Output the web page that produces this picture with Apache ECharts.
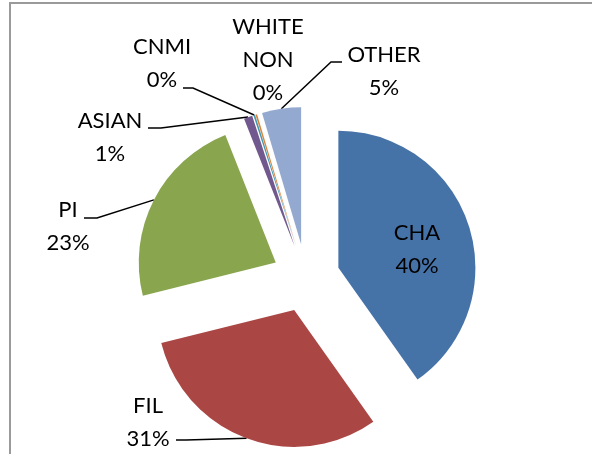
<!DOCTYPE html>
<html>
<head>
<meta charset="utf-8">
<script src="https://cdn.jsdelivr.net/npm/echarts@6/dist/echarts.min.js"></script>
<style>
html,body{margin:0;padding:0;background:#fff;}
#chart{width:592px;height:454px;}
</style>
</head>
<body>
<div id="chart"></div>
<script>
// slices, clockwise from 12 o'clock
var names = ['CHA', 'FIL', 'PI', 'ASIAN', 'CNMI', 'WHITE NON', 'OTHER'];
var shares = [40.2, 30.9, 22.9, 1.0, 0.2, 0.2, 4.6];
var colors = ['#4572A7', '#AA4643', '#89A54E', '#71588F', '#4198AF', '#DB843D', '#93A9CF'];

// label centre + leader line (elbow, end) for each slice
var labelAt = [
	{x: 417, y: 249, line: null},
	{x: 148, y: 422, line: [[186, 440], [176, 440]]},
	{x: 68, y: 226, line: [[97, 218], [84, 218]]},
	{x: 110, y: 137, line: [[161, 128], [148, 128]]},
	{x: 162, y: 63, line: [[193, 88], [183, 88]]},
	{x: 268, y: 60, line: null},
	{x: 384, y: 71, line: [[331, 62], [342, 62]]}
];

var CX = 306, CY = 278, R = 137, EXPLODE = 34;

var total = 0;
for (var i = 0; i < shares.length; i++) total += shares[i];

// exploded pie: one series per slice, each pushed out along its mid angle
var seriesList = [];
var before = 0;
for (var s = 0; s < names.length; s++) {
	var mid = (before + shares[s] / 2) / total * Math.PI * 2;
	before += shares[s];
	var data = [];
	for (var i = 0; i < names.length; i++) {
		var on = (i == s);
		data.push({
			name: names[i],
			value: shares[i],
			itemStyle: {color: on ? colors[i] : 'rgba(0,0,0,0)'},
			label: {show: on},
			labelLine: {show: on && labelAt[i].line != null}
		});
	}
	seriesList.push({
		type: 'pie',
		silent: true,
		center: [CX + Math.sin(mid) * EXPLODE, CY - Math.cos(mid) * EXPLODE],
		radius: R,
		startAngle: 90,
		clockwise: true,
		percentPrecision: 0,
		avoidLabelOverlap: false,
		data: data,
		label: {
			color: '#000',
			fontFamily: 'Lato',
			fontSize: 22,
			lineHeight: 33,
			align: 'center',
			formatter: function (p) {
				return p.name.replace(' ', '\n') + '\n' + p.percent + '%';
			}
		},
		labelLine: {
			lineStyle: {color: '#000', width: 1.5}
		},
		emphasis: {disabled: true},
		labelLayout: function (p) {
			var L = labelAt[p.dataIndex];
			var out = {x: L.x, y: L.y, align: 'center', verticalAlign: 'middle'};
			if (L.line && p.labelLinePoints) {
				out.labelLinePoints = [p.labelLinePoints[0], L.line[0], L.line[1]];
			}
			return out;
		}
	});
}

var myChart = echarts.init(document.getElementById('chart'));
var option = {
	backgroundColor: '#fff',
	animation: false,
	graphic: [{
		type: 'rect',
		shape: {x: 10, y: 3, width: 640, height: 520},
		style: {fill: 'none', stroke: '#9a9a9a', lineWidth: 2},
		silent: true
	}],
	series: seriesList
};
myChart.setOption(option);
</script>
</body>
</html>
